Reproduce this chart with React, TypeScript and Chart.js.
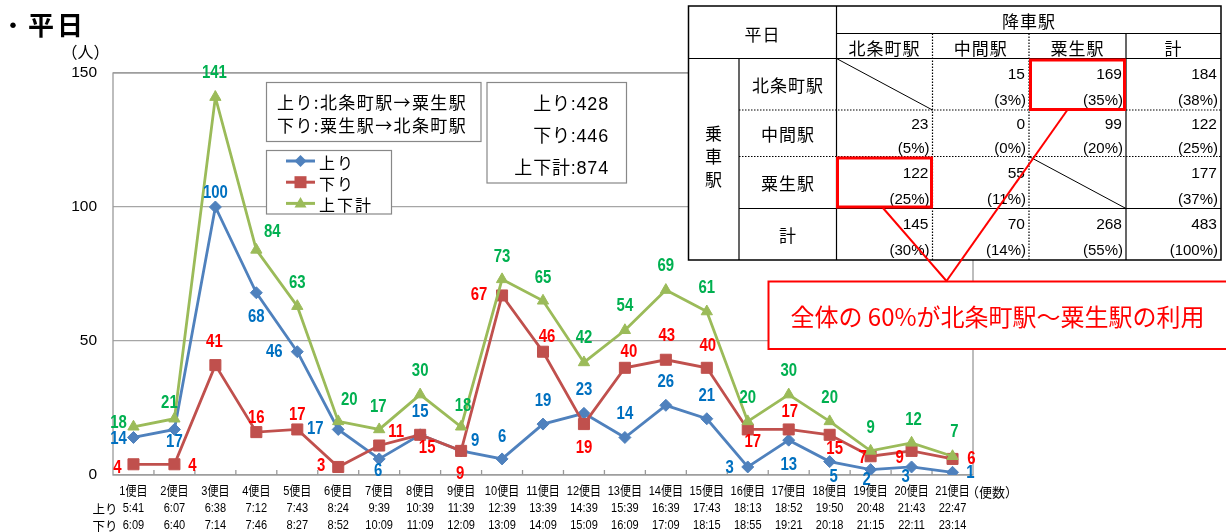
import React, { useEffect, useRef } from 'react';
import { Chart, registerables } from 'chart.js';

Chart.register(...registerables);

// 便名と発車時刻
const trips = ['1便目', '2便目', '3便目', '4便目', '5便目', '6便目', '7便目', '8便目', '9便目', '10便目', '11便目', '12便目', '13便目', '14便目', '15便目', '16便目', '17便目', '18便目', '19便目', '20便目', '21便目'];
const upTimes = ['5:41', '6:07', '6:38', '7:12', '7:43', '8:24', '9:39', '10:39', '11:39', '12:39', '13:39', '14:39', '15:39', '16:39', '17:43', '18:13', '18:52', '19:50', '20:48', '21:43', '22:47'];
const downTimes = ['6:09', '6:40', '7:14', '7:46', '8:27', '8:52', '10:09', '11:09', '12:09', '13:09', '14:09', '15:09', '16:09', '17:09', '18:15', '18:55', '19:21', '20:18', '21:15', '22:11', '23:14'];

// 便ごとの利用者数（人）
const upRiders = [14, 17, 100, 68, 46, 17, 6, 15, 9, 6, 19, 23, 14, 26, 21, 3, 13, 5, 2, 3, 1];
const downRiders = [4, 4, 41, 16, 17, 3, 11, 15, 9, 67, 46, 19, 40, 43, 40, 17, 17, 15, 7, 9, 6];
const totalRiders = [18, 21, 141, 84, 63, 20, 17, 30, 18, 73, 65, 42, 54, 69, 61, 20, 30, 20, 9, 12, 7];

const yTicks = [0, 50, 100, 150];

// 乗車駅 × 降車駅
const stationNames = ['北条町駅', '中間駅', '粟生駅'];
const fromHojomachi = [null, 15, 169, 184];
const fromNakama = [23, 0, 99, 122];
const fromAo = [122, 55, null, 177];
const alightTotals = [145, 70, 268, 483];

// 値ラベルの置き場所（点からのずれ, px）
const upLabelOffsets = [[-15, 2], [0, 13], [0, -14], [0, 24], [-23, 0], [-23, 0], [-1, 12], [0, -23], [14, -10], [0, -22], [0, -23], [0, -23], [0, -23], [0, -23], [0, -23], [-18, 1], [0, 25], [4, 15], [-4, 10], [-6, 10], [18, 1]];
const downLabelOffsets = [[-16, 4], [18, 2], [-1, -23], [0, -14], [0, -14], [-17, -1], [17, -13], [7, 13], [-1, 23], [-23, 0], [4, -15], [0, 24], [4, -16], [1, -24], [1, -22], [5, 13], [1, -17], [5, 14], [-8, 2], [-12, 7], [19, 0]];
const totalLabelOffsets = [[-15, -4], [-5, -16], [-1, -24], [16, -18], [0, -23], [11, -21], [-1, -22], [0, -24], [2, -21], [0, -22], [0, -23], [0, -24], [0, -24], [0, -24], [0, -23], [0, -23], [0, -24], [0, -23], [0, -23], [2, -23], [2, -24]];

const BLUE = '#4F81BD';
const RED = '#C0504D';
const GREEN = '#9BBB59';
const labelColors = ['#0070C0', '#FF0000', '#00B050'];
const labelOffsets = [upLabelOffsets, downLabelOffsets, totalLabelOffsets];

const JP = "'Noto Sans CJK JP', sans-serif";
const NUM_JP = "'Liberation Sans', 'Noto Sans CJK JP', sans-serif";

const sum = (a: number[]) => a.reduce((s, v) => s + v, 0);

// 横方向に詰めた文字を描く
function drawNarrow(ctx: CanvasRenderingContext2D, text: string, x: number, y: number, squeeze: number) {
  ctx.save();
  ctx.translate(x, y);
  ctx.scale(squeeze, 1);
  ctx.fillText(text, 0, 0);
  ctx.restore();
}

const plotFrame = {
  id: 'plotFrame',
  beforeDatasetsDraw(chart: any) {
    const { ctx, chartArea: a, scales } = chart;
    const x = scales.x;
    const n = chart.data.labels.length;
    const half = (x.getPixelForValue(1) - x.getPixelForValue(0)) / 2;
    ctx.save();
    ctx.strokeStyle = '#9a9a9a';
    ctx.lineWidth = 1.3;
    ctx.strokeRect(a.left, a.top, a.right - a.left, a.bottom - a.top);
    ctx.beginPath();
    for (let i = 1; i < n; i++) {
      const px = x.getPixelForValue(i) - half;
      ctx.moveTo(px, a.bottom);
      ctx.lineTo(px, a.bottom - 5);
    }
    ctx.stroke();
    ctx.restore();
  },
};

// 便名・上り時刻・下り時刻の3段ラベル
const tripLabels = {
  id: 'tripLabels',
  afterDraw(chart: any) {
    const { ctx, chartArea: a, scales } = chart;
    const x = scales.x;
    const rows = [trips, upTimes, downTimes];
    const rowOffsets = [16.5, 33, 50];
    ctx.save();
    ctx.font = `13px ${NUM_JP}`;
    ctx.fillStyle = '#000';
    ctx.textAlign = 'center';
    ctx.textBaseline = 'middle';
    rows.forEach((row, r) => {
      row.forEach((t, i) => {
        drawNarrow(ctx, t, x.getPixelForValue(i), a.bottom + rowOffsets[r], 0.85);
      });
    });
    ctx.restore();
  },
};

const valueLabels = {
  id: 'valueLabels',
  afterDatasetsDraw(chart: any) {
    const ctx = chart.ctx;
    ctx.save();
    ctx.font = `bold 18px 'Liberation Sans', sans-serif`;
    ctx.textAlign = 'center';
    ctx.textBaseline = 'middle';
    chart.data.datasets.forEach((ds: any, di: number) => {
      const meta = chart.getDatasetMeta(di);
      ctx.fillStyle = labelColors[di];
      meta.data.forEach((pt: any, i: number) => {
        const [dx, dy] = labelOffsets[di][i];
        drawNarrow(ctx, String(ds.data[i]), pt.x + dx, pt.y + dy, 0.83);
      });
    });
    ctx.restore();
  },
};

const tableRows = [fromHojomachi, fromNakama, fromAo, alightTotals];
const rowHeads = [...stationNames, '計'];
const colHeads = [...stationNames, '計'];
const colX = [836.5, 932.5, 1029, 1126, 1221];
const rowY = [58.5, 110, 156.5, 208.5, 260];
const grand = alightTotals[alightTotals.length - 1];

function Table() {
  const dot = { stroke: '#000', strokeWidth: 1.2, strokeDasharray: '1.5 1.5' };
  const solid = { stroke: '#000', strokeWidth: 1.2 };
  return (
    <g>
      <rect x={688.5} y={6} width={532.5} height={254} fill="#fff" stroke="#000" strokeWidth={1.5} />
      <line x1={836.5} y1={6} x2={836.5} y2={260} {...solid} />
      <line x1={739} y1={58.5} x2={739} y2={260} {...solid} />
      <line x1={836.5} y1={33.5} x2={1221} y2={33.5} {...solid} />
      <line x1={688.5} y1={58.5} x2={1221} y2={58.5} {...solid} />
      <line x1={932.5} y1={33.5} x2={932.5} y2={260} {...dot} />
      <line x1={1029} y1={33.5} x2={1029} y2={260} {...dot} />
      <line x1={1126} y1={33.5} x2={1126} y2={260} {...solid} />
      <line x1={739} y1={110} x2={1221} y2={110} {...dot} />
      <line x1={739} y1={156.5} x2={1221} y2={156.5} {...dot} />
      <line x1={739} y1={208.5} x2={1221} y2={208.5} {...solid} />
      <line x1={836.5} y1={58.5} x2={932.5} y2={110} stroke="#000" strokeWidth={1} />
      <line x1={1029} y1={156.5} x2={1126} y2={208.5} stroke="#000" strokeWidth={1} />
      <g fontFamily={JP} fontSize={17} fill="#000" dominantBaseline="central" textAnchor="middle" letterSpacing={1}>
        <text x={762.5} y={33}>平日</text>
        <text x={1029} y={20}>降車駅</text>
        {colHeads.map((h, i) => (
          <text key={h} x={(colX[i] + colX[i + 1]) / 2} y={47}>{h}</text>
        ))}
        {rowHeads.map((h, i) => (
          <text key={h} x={788} y={(rowY[i] + rowY[i + 1]) / 2}>{h}</text>
        ))}
        {['乗', '車', '駅'].map((c, i) => (
          <text key={c} x={714} y={132 + i * 23}>{c}</text>
        ))}
      </g>
      <g fontFamily={NUM_JP} fill="#000" dominantBaseline="central" textAnchor="end">
        {tableRows.map((row, r) => {
          const top = rowY[r];
          const h = rowY[r + 1] - top;
          return row.map((v, c) =>
            v === null ? null : (
              <g key={`${r}-${c}`}>
                <text x={colX[c + 1] - 4} y={top + h * 0.3} fontSize={15.5}>{v}</text>
                <text x={colX[c + 1] - 3} y={top + h * 0.8} fontSize={15}>({Math.round((v / grand) * 100)}%)</text>
              </g>
            )
          );
        })}
      </g>
      <rect x={1030.5} y={60} width={94} height={49.5} fill="none" stroke="#FF0000" strokeWidth={3} />
      <rect x={837.5} y={158} width={94} height={49} fill="none" stroke="#FF0000" strokeWidth={3} />
    </g>
  );
}

export default function App() {
  const ref = useRef<HTMLCanvasElement>(null);

  useEffect(() => {
    const chart = new Chart(ref.current as HTMLCanvasElement, {
      type: 'line',
      data: {
        labels: trips,
        datasets: [
          { label: '上り', data: upRiders, borderColor: BLUE, backgroundColor: BLUE, borderWidth: 2.8, pointStyle: 'rectRot', pointRadius: 6, pointBorderWidth: 1, pointBackgroundColor: BLUE, pointBorderColor: BLUE, tension: 0, order: 3 },
          { label: '下り', data: downRiders, borderColor: RED, backgroundColor: RED, borderWidth: 2.8, pointStyle: 'rect', pointRadius: 7.8, pointBorderWidth: 1, pointBackgroundColor: RED, pointBorderColor: RED, tension: 0, order: 2 },
          { label: '上下計', data: totalRiders, borderColor: GREEN, backgroundColor: GREEN, borderWidth: 2.8, pointStyle: 'triangle', pointRadius: 6.5, pointBorderWidth: 1, pointBackgroundColor: GREEN, pointBorderColor: GREEN, tension: 0, order: 1 },
        ],
      },
      options: {
        responsive: false,
        animation: false,
        devicePixelRatio: 1,
        layout: { padding: { top: 73, right: 253, left: 0, bottom: 0 } },
        plugins: { legend: { display: false }, tooltip: { enabled: false } },
        scales: {
          x: {
            type: 'category',
            offset: true,
            grid: { display: false },
            border: { display: false },
            ticks: { display: false },
            afterFit(s: any) { s.height = 57; },
          },
          y: {
            min: 0,
            max: 150,
            afterBuildTicks(s: any) { s.ticks = yTicks.map((v) => ({ value: v })); },
            grid: { color: '#a6a6a6', lineWidth: 1.3, drawTicks: false },
            border: { display: false },
            ticks: { padding: 16, color: '#000', font: { family: "'Liberation Sans', sans-serif", size: 15.5 } },
            afterFit(s: any) { s.width = 113; },
          },
        },
      } as any,
      plugins: [plotFrame, valueLabels, tripLabels],
    });
    return () => chart.destroy();
  }, []);

  const totals = [
    ['上り', sum(upRiders)],
    ['下り', sum(downRiders)],
    ['上下計', sum(totalRiders)],
  ];
  const legendItems = [
    { name: '上り', color: BLUE, shape: 'diamond' },
    { name: '下り', color: RED, shape: 'square' },
    { name: '上下計', color: GREEN, shape: 'triangle' },
  ];

  return (
    <div style={{ position: 'fixed', left: 0, top: 0, width: 1226, height: 532, background: '#fff', overflow: 'hidden' }}>
      <canvas ref={ref} width={1226} height={532} style={{ position: 'absolute', left: 0, top: 0, display: 'block' }} />
      <svg width={1226} height={532} style={{ position: 'absolute', left: 0, top: 0 }}>
        <text x={13} y={23} fontSize={26} fontFamily={JP} textAnchor="middle" dominantBaseline="central">・</text>
        <text x={28} y={23.5} fontSize={26} fontWeight={700} fontFamily={JP} letterSpacing={3} dominantBaseline="central">平日</text>
        <text x={85.5} y={50.5} fontSize={16} fontFamily={JP} textAnchor="middle" dominantBaseline="central">（人）</text>

        <g fontFamily={JP} fontSize={12.5} textAnchor="middle" dominantBaseline="central">
          <text x={105} y={508}>上り</text>
          <text x={105} y={525}>下り</text>
        </g>
        <text x={966} y={491.5} fontFamily={JP} fontSize={13} dominantBaseline="central">（便数）</text>

        <rect x={266.5} y={82.5} width={214.5} height={59} fill="#fff" stroke="#888" strokeWidth={1.2} />
        <g fontFamily={JP} fontSize={17} letterSpacing={1.4} dominantBaseline="central">
          <text x={277} y={101}>上り:北条町駅→粟生駅</text>
          <text x={277} y={124}>下り:粟生駅→北条町駅</text>
        </g>

        <rect x={266.5} y={150.5} width={125} height={63.5} fill="#fff" stroke="#888" strokeWidth={1.2} />
        {legendItems.map((it, i) => {
          const y = 161 + i * 21.2;
          const cx = 300.5;
          let marker: any = null;
          if (it.shape === 'diamond') marker = <polygon points={`${cx},${y - 6} ${cx + 6},${y} ${cx},${y + 6} ${cx - 6},${y}`} fill={it.color} />;
          else if (it.shape === 'square') marker = <rect x={cx - 6} y={y - 6} width={12} height={12} fill={it.color} />;
          else marker = <polygon points={`${cx},${y - 6.5} ${cx + 6},${y + 4} ${cx - 6},${y + 4}`} fill={it.color} />;
          return (
            <g key={it.name}>
              <line x1={286} y1={y} x2={315} y2={y} stroke={it.color} strokeWidth={3} />
              {marker}
              <text x={319} y={y + 0.5} fontFamily={JP} fontSize={16} letterSpacing={2} dominantBaseline="central">{it.name}</text>
            </g>
          );
        })}

        <rect x={487} y={82.5} width={139.5} height={100.5} fill="#fff" stroke="#888" strokeWidth={1.2} />
        <g fontFamily={NUM_JP} fontSize={18} textAnchor="end" dominantBaseline="central" letterSpacing={0.8}>
          {totals.map(([name, v], i) => (
            <text key={name as string} x={609} y={104 + i * 31.8}>{`${name}:${v}`}</text>
          ))}
        </g>

        <Table />

        <line x1={1067} y1={110.5} x2={946.5} y2={281} stroke="#FF0000" strokeWidth={2} />
        <line x1={883} y1={208} x2={946.5} y2={281} stroke="#FF0000" strokeWidth={2} />
        <rect x={768.5} y={281.5} width={462} height={67.5} fill="#fff" stroke="#FF0000" strokeWidth={2} />
        <text x={997.5} y={315.5} fontFamily={JP} fontSize={24} fill="#FF0000" textAnchor="middle" dominantBaseline="central">全体の 60%が北条町駅～粟生駅の利用</text>
      </svg>
    </div>
  );
}
